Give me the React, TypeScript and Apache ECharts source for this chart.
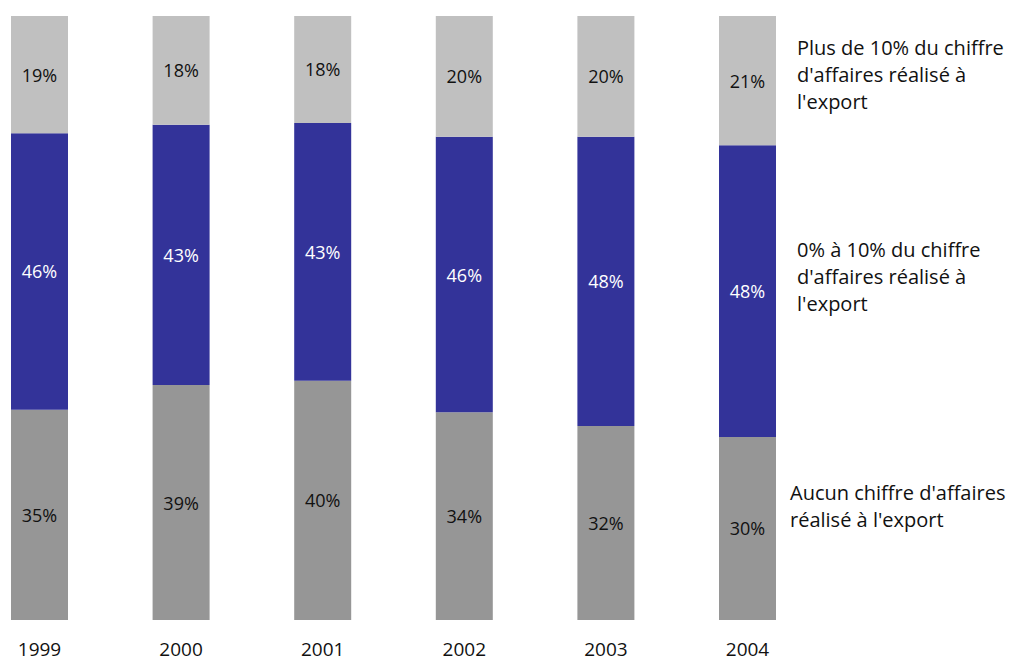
import React, { useEffect, useRef } from "react";
import * as echarts from "echarts";

const years = ["1999", "2000", "2001", "2002", "2003", "2004"];
const noExport = [34.8, 38.9, 39.6, 34.4, 32.1, 30.3];
const upTo10 = [45.8, 43.1, 42.7, 45.6, 47.9, 48.3];
const over10 = [19.4, 18.0, 17.7, 20.0, 20.0, 21.4];

const legendTexts = [
  { text: "Plus de 10% du chiffre\nd'affaires réalisé à\nl'export", x: 797, y: 34 },
  { text: "0% à 10% du chiffre\nd'affaires réalisé à\nl'export", x: 797, y: 236 },
  { text: "Aucun chiffre d'affaires\nréalisé à l'export", x: 790, y: 479 },
];

const FONT = "Open Sans";

export default function App() {
  const ref = useRef<HTMLDivElement>(null);
  useEffect(() => {
    if (!ref.current) return;
    const chart = echarts.init(ref.current, null, { renderer: "svg" });
    const label = (color: string) => ({
      show: true,
      position: "inside" as const,
      color,
      fontFamily: FONT,
      fontSize: 18,
      formatter: (p: any) => Math.round(p.value) + "%",
    });
    chart.setOption({
      animation: false,
      backgroundColor: "#ffffff",
      grid: { left: 39.5, width: 708, top: 16, bottom: 42, containLabel: false },
      xAxis: {
        type: "category",
        data: years,
        boundaryGap: false,
        axisLine: { show: false },
        axisTick: { show: false },
        axisLabel: { color: "#111", fontFamily: FONT, fontSize: 19, lineHeight: 19, margin: 19 },
      },
      yAxis: {
        type: "value",
        min: 0,
        max: 100,
        show: false,
        splitLine: { show: false },
      },
      series: [
        {
          name: "Aucun",
          type: "bar",
          stack: "t",
          barWidth: 57,
          data: noExport,
          itemStyle: { color: "#969696" },
          label: label("#111111"),
        },
        {
          name: "0-10",
          type: "bar",
          stack: "t",
          barWidth: 57,
          data: upTo10,
          itemStyle: { color: "#333399" },
          label: label("#ffffff"),
        },
        {
          name: "10+",
          type: "bar",
          stack: "t",
          barWidth: 57,
          data: over10,
          itemStyle: { color: "#c0c0c0" },
          label: label("#111111"),
        },
      ],
      graphic: legendTexts.map((t) => ({
        type: "text",
        left: t.x,
        top: t.y,
        style: {
          text: t.text,
          fill: "#111111",
          font: `20px "${FONT}"`,
          lineHeight: 27,
        },
      })),
    });
    return () => chart.dispose();
  }, []);
  return <div ref={ref} style={{ width: 1009, height: 662, position: "absolute", left: 0, top: 0 }} />;
}
